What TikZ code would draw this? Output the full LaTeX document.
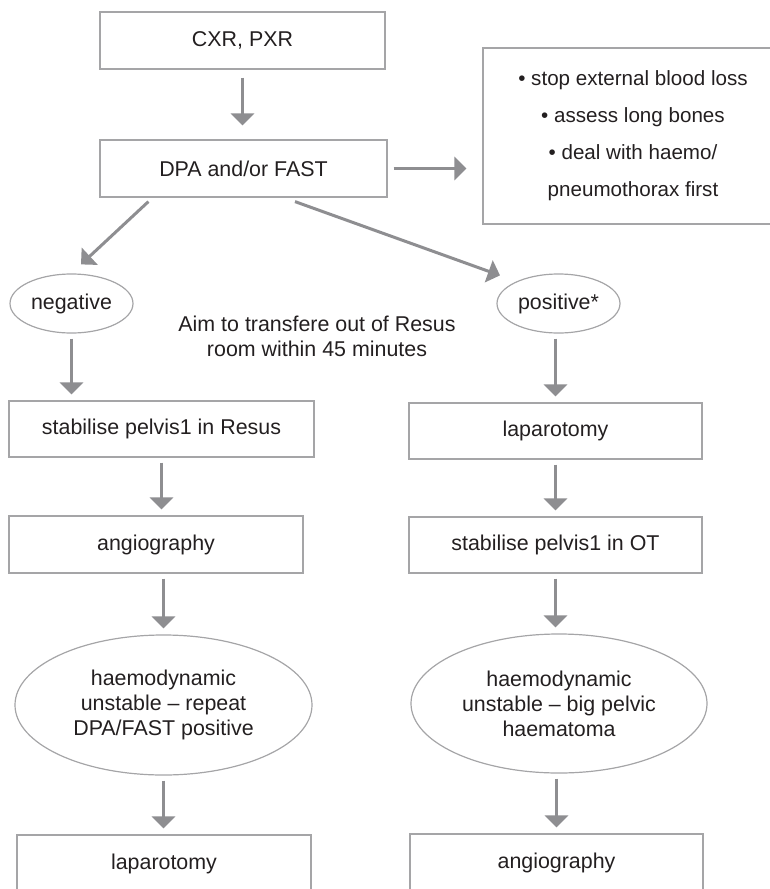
\documentclass[tikz,border=0pt]{standalone}
\usepackage{fontspec}
\setmainfont{Liberation Sans}
\usetikzlibrary{shapes.geometric,arrows.meta}
\definecolor{boxline}{RGB}{165,165,167}
\definecolor{arrowgray}{RGB}{142,142,145}
\definecolor{txtgray}{RGB}{35,31,32}
\tikzset{
    lab/.style={
        font=\fontsize{21.4}{25}\selectfont, text=txtgray
    }
}

\begin{document}
\begin{tikzpicture}[x=1pt,y=-1pt, line cap=butt, line join=miter]

\tikzset{
  box/.style={lab, rectangle, draw=boxline, line width=1.2pt, inner sep=0pt},
  oval/.style={lab, ellipse, draw=boxline, line width=1.2pt, inner sep=0pt, align=center},
  arr/.style={draw=arrowgray, line width=3pt, -{Triangle[width=23pt,length=12pt]},
    shorten <=5pt, shorten >=6pt},
}

\useasboundingbox (0,0) rectangle (770,889);
\clip (0,0) rectangle (770,889);

% top
\node[box, minimum width=285pt, minimum height=57pt] (cxr) at (242.5,40.5) {CXR, PXR};
\node[box, minimum width=287pt, minimum height=57pt] (dpa) at (243.5,168.5) {DPA and/or FAST};
\node[box, minimum width=300pt, minimum height=176pt, align=center,
  font=\fontsize{20.6}{37}\selectfont] (side) at (633,136)
  {• stop external blood loss\\ • assess long bones\\ • deal with haemo/\\ pneumothorax first};

% branches
\node[oval, minimum width=123pt, minimum height=59pt] (neg) at (71.5,303.5) {negative};
\node[oval, minimum width=123pt, minimum height=59pt] (pos) at (558.5,303.5) {positive*};
\node[lab, align=center] (aim) at (317,336) {Aim to transfere out of Resus\\ room within 45 minutes};

% left column
\node[box, minimum width=305pt, minimum height=56pt] (resus) at (161.5,429) {stabilise pelvis1 in Resus};
\node[box, minimum width=294pt, minimum height=57pt] (angL) at (156,544.5) {angiography};
\node[oval, minimum width=297pt, minimum height=140pt] (haemL) at (163.5,705)
  {haemodynamic\\ unstable – repeat\\ DPA/FAST positive};
\node[box, minimum width=294pt, minimum height=57pt] (lapL) at (164,863.5) {laparotomy};

% right column
\node[box, minimum width=293pt, minimum height=56pt] (lapR) at (555.5,431) {laparotomy};
\node[box, minimum width=293pt, minimum height=56pt] (otR) at (555.5,545) {stabilise pelvis1 in OT};
\node[oval, minimum width=296pt, minimum height=139pt] (haemR) at (559,703.5)
  {haemodynamic\\ unstable – big pelvic\\ haematoma};
\node[box, minimum width=293pt, minimum height=57pt] (angR) at (556.5,862.5) {angiography};

% arrows
\draw[arr, shorten <=8pt, shorten >=14pt] (cxr.south) -- (cxr.south |- dpa.north);
\draw[arr, shorten <=6pt, shorten >=16pt] (dpa.east) -- (dpa.east -| side.west);
\draw[arr, shorten <=0pt, shorten >=0pt] ([xshift=49pt,yshift=-4pt]dpa.south west) -- ([xshift=9.5pt,yshift=9pt]neg.north);
\draw[arr, shorten <=0pt, shorten >=0pt] ([xshift=51.5pt,yshift=-4pt]dpa.south) -- ([xshift=-58.5pt,yshift=-2pt]pos.north);

\draw[arr] (neg.south) -- (neg.south |- resus.north);
\draw[arr] (resus.south) -- (resus.south |- angL.north);
\draw[arr] (haemL.north |- angL.south) -- (haemL.north);
\draw[arr] (haemL.south) -- (haemL.south |- lapL.north);

\draw[arr] (lapR.north |- pos.south) -- (lapR.north);
\draw[arr] (lapR.south) -- (lapR.south |- otR.north);
\draw[arr] (otR.south) -- (otR.south |- haemR.north);
\draw[arr] (angR.north |- haemR.south) -- (angR.north);

\end{tikzpicture}
\end{document}
